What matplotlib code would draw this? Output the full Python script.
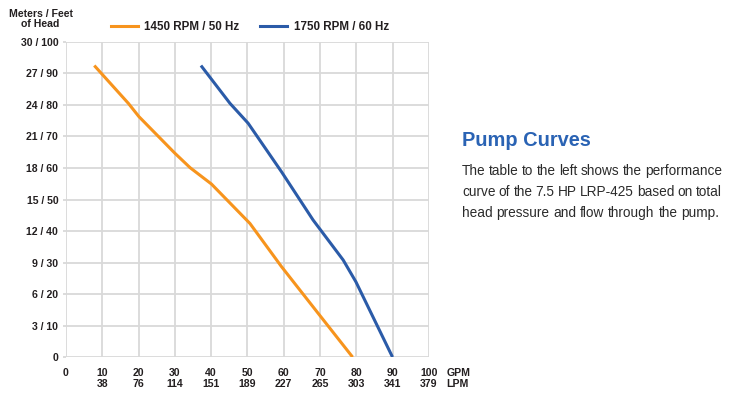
import matplotlib.pyplot as plt
from matplotlib.lines import Line2D

plt.rcParams['font.family'] = ['Liberation Sans', 'DejaVu Sans']

# data
gpm_ticks = [0, 10, 20, 30, 40, 50, 60, 70, 80, 90, 100]
lpm_ticks = ['', '38', '76', '114', '151', '189', '227', '265', '303', '341', '379']
feet_ticks = [0, 10, 20, 30, 40, 50, 60, 70, 80, 90, 100]
meter_ticks = [0, 3, 6, 9, 12, 15, 18, 21, 24, 27, 30]

rpm1450_gpm = [7.8, 17.2, 20.1, 30.0, 34.2, 40.1, 50.7, 59.4, 69.5, 79.0]
rpm1450_ft = [92.5, 80.5, 76.3, 64.7, 60.1, 54.9, 42.4, 28.7, 13.9, 0]
rpm1750_gpm = [37.2, 45.2, 50.2, 59.4, 68.1, 76.4, 79.9, 90.0]
rpm1750_ft = [92.5, 80.5, 74.2, 58.8, 43.5, 30.8, 23.9, 0]

orange = '#F7941D'
blue = '#2B5BA8'
txt = '#231F20'
fs = 7.6

fig = plt.figure(figsize=(7.33, 3.99), dpi=100)
ax = fig.add_axes([0.090, 0.105, 0.495, 0.790])

ax.plot(rpm1450_gpm, rpm1450_ft, color=orange, lw=2.2, solid_capstyle='butt')
ax.plot(rpm1750_gpm, rpm1750_ft, color=blue, lw=2.2, solid_capstyle='butt')

ax.set_xlim(0, 100)
ax.set_ylim(0, 100)
ax.set_xticks(gpm_ticks)
ax.set_xticklabels([f'{g}\n{l}' if l else f'{g}' for g, l in zip(gpm_ticks, lpm_ticks)],
                   va='top', linespacing=1.15)
ax.set_yticks(feet_ticks)
ax.set_yticklabels([f'{m} / {f}' if f else '0' for m, f in zip(meter_ticks, feet_ticks)])
ax.tick_params(axis='x', labelsize=fs, length=0, pad=8)
ax.tick_params(axis='y', labelsize=fs, length=2.5, color='#d9d9d9', width=1.3, pad=3)
for lab in ax.get_xticklabels() + ax.get_yticklabels():
    lab.set_fontweight('bold')
    lab.set_color(txt)
ax.grid(True, color='#d9d9d9', lw=1.3)
ax.set_axisbelow(True)
for s in ax.spines.values():
    s.set_visible(False)

# unit labels at the end of the x axis
ax.text(104.8, -3.5, 'GPM\nLPM', ha='left', va='top',
        fontsize=fs, fontweight='bold', color=txt, linespacing=1.15)

fig.text(0.0555, 0.977, 'Meters / Feet\nof Head', ha='center', va='top',
         fontsize=fs, fontweight='bold', color=txt, linespacing=1.0)

handles = [Line2D([], [], color=orange, lw=2.2), Line2D([], [], color=blue, lw=2.2)]
leg = fig.legend(handles, ['1450 RPM / 50 Hz', '1750 RPM / 60 Hz'], loc='center',
                 bbox_to_anchor=(0.341, 0.932), ncol=2, frameon=False,
                 handlelength=2.3, handletextpad=0.55, columnspacing=1.8,
                 prop={'weight': 'bold', 'size': 8.4})
for t in leg.get_texts():
    t.set_color(txt)

fig.text(462 / 733, 1 - 140 / 399, 'Pump Curves', ha='left', va='center',
         fontsize=14.4, fontweight='bold', color='#2A63B4')

# justified body text
body_lines = [['The', 'table', 'to', 'the', 'left', 'shows', 'the', 'performance'],
              ['curve', 'of', 'the', '7.5', 'HP', 'LRP-425', 'based', 'on', 'total'],
              ['head', 'pressure', 'and', 'flow', 'through', 'the', 'pump.']]
x0, x1 = 462, 722
ys = [171, 192, 213]
fig.canvas.draw()
r = fig.canvas.get_renderer()
for i, (words, y) in enumerate(zip(body_lines, ys)):
    objs = [fig.text(0, 1 - y / 399, w, ha='left', va='center', fontsize=9.8, color='#2b2b2b')
            for w in words]
    widths = [o.get_window_extent(r).width for o in objs]
    if i < len(body_lines) - 1:
        gap = (x1 - x0 - sum(widths)) / (len(words) - 1)
    else:
        gap = r.points_to_pixels(9.8) * 0.28
    x = x0
    for o, w in zip(objs, widths):
        o.set_x(x / 733)
        x += w + gap

fig.savefig('out.png', dpi=100)
